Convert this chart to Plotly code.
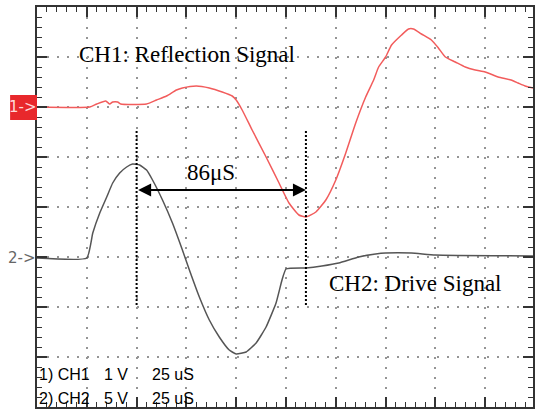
import plotly.graph_objects as go

# Time base: 25 us/div, CH1 1 V/div, CH2 5 V/div
ch1_t = [0, 26.5, 30, 34.5, 36.5, 38, 40.5, 42, 55, 60, 65, 70, 73, 80, 86.5, 93, 98, 100,
         103, 108, 115, 121.5, 126.5, 131.5, 135, 140, 145, 150, 155, 160, 165, 169, 171.5,
         175, 178, 183, 186.5, 189, 193, 198, 201.5, 205, 210, 215, 220, 225, 231.5, 238,
         241.5, 245, 249]
ch1_v = [0, 0, 0.06, 0.12, 0.06, 0.10, 0.10, 0.06, 0.06, 0.14, 0.22, 0.34, 0.38, 0.42, 0.38,
         0.30, 0.22, 0.14, -0.06, -0.46, -1.00, -1.52, -1.92, -2.16, -2.20, -2.10, -1.86,
         -1.46, -0.92, -0.32, 0.20, 0.54, 0.80, 1.00, 1.24, 1.44, 1.56, 1.56, 1.46, 1.34,
         1.18, 1.00, 0.90, 0.80, 0.74, 0.70, 0.60, 0.54, 0.48, 0.42, 0.38]

ch2_t = [0, 25, 28, 31.5, 35, 38, 41.5, 45, 48, 51.5, 55, 58, 63, 68, 73, 76.5, 81.5, 86.5,
         91.5, 96.5, 100, 105, 110, 115, 120, 123, 125, 135, 143, 151.5, 161.5, 170, 175,
         188, 200, 249]
ch2_v = [0, 0, 2.5, 4.5, 6.1, 7.5, 8.5, 9.1, 9.4, 9.3, 8.8, 7.8, 5.8, 3.5, 0.8, -1.2, -3.9,
         -6.2, -7.9, -9.2, -9.6, -9.4, -8.5, -6.9, -4.5, -2.2, -1.1, -1.0, -0.8, -0.5, 0.1,
         0.4, 0.5, 0.5, 0.3, 0.2]

CH1_SCALE = 1.0   # V/div
CH2_SCALE = 5.0   # V/div
CH1_REF = 6.0     # div from bottom
CH2_REF = 2.98

marker_t = [50, 135]   # cursor positions (us)
delta_label = "86μS"

y1 = [CH1_REF + v / CH1_SCALE for v in ch1_v]
y2 = [CH2_REF + v / CH2_SCALE for v in ch2_v]

fig = go.Figure()
fig.add_trace(go.Scatter(x=ch1_t, y=y1, mode="lines",
                         line=dict(color="#f25c5c", width=1.5, shape="spline", smoothing=0.5),
                         hoverinfo="skip"))
fig.add_trace(go.Scatter(x=ch2_t, y=y2, mode="lines",
                         line=dict(color="#555555", width=1.5, shape="spline", smoothing=0.4),
                         hoverinfo="skip"))

for t in marker_t:
    fig.add_shape(type="line", xref="x", yref="y", x0=t, x1=t, y0=2.04, y1=5.54,
                  line=dict(color="black", width=2, dash="2px,2px"))

fig.add_annotation(x=marker_t[1], y=4.34, ax=marker_t[0], ay=4.34, axref="x", ayref="y",
                   xref="x", yref="y", text="", showarrow=True, arrowside="end+start",
                   arrowhead=2, arrowsize=1.3, arrowwidth=2, arrowcolor="black",
                   standoff=0, startstandoff=0)

serif = dict(family="Liberation Serif", size=23, color="black")
fig.add_annotation(x=20, y=7.06, xref="x", yref="y", text="CH1: Reflection Signal",
                   showarrow=False, xanchor="left", yanchor="middle", font=serif)
fig.add_annotation(x=145.5, y=2.48, xref="x", yref="y", text="CH2: Drive Signal",
                   showarrow=False, xanchor="left", yanchor="middle", font=serif)
fig.add_annotation(x=87.5, y=4.7, xref="x", yref="y", text=delta_label,
                   showarrow=False, xanchor="center", yanchor="middle", font=serif)

sans = dict(family="Liberation Sans", size=16, color="black")
rows = [("1) CH1", "1 V", "25 uS", 0.66), ("2) CH2", "5 V", "25 uS", 0.18)]
for a, b, c, yy in rows:
    for txt, xx in ((a, 0), (b, 32.5), (c, 56.5)):
        fig.add_annotation(x=xx, y=yy, xref="x", yref="y", text=txt, showarrow=False,
                           xanchor="left", yanchor="middle", font=sans)

# channel reference markers
fig.add_shape(type="rect", xref="paper", yref="paper", x0=-27 / 498, x1=0,
              y0=(407 - 120) / 400, y1=(407 - 95) / 400,
              fillcolor="#e8282c", line=dict(width=0))
fig.add_annotation(xref="paper", yref="paper", x=-14 / 498, y=(407 - 107) / 400,
                   text="1->", showarrow=False, xanchor="center", yanchor="middle",
                   font=dict(family="DejaVu Sans", size=15, color="#ffd8d8"))
fig.add_annotation(xref="paper", yref="paper", x=-15 / 498, y=(407 - 258) / 400,
                   text="2->", showarrow=False, xanchor="center", yanchor="middle",
                   font=dict(family="DejaVu Sans", size=15, color="#666666"))

axis_common = dict(showticklabels=False, ticks="inside", ticklen=10, tickwidth=1.5,
                   tickcolor="#333333", showline=True, linecolor="#333333", linewidth=2,
                   mirror="ticks", zeroline=False, showgrid=True, gridcolor="#959595",
                   griddash="2px,8px", gridwidth=1.5, fixedrange=True)
fig.update_xaxes(range=[0, 249], tick0=0, dtick=25,
                 minor=dict(dtick=5, ticks="inside", ticklen=5, tickwidth=1,
                            tickcolor="#333333", showgrid=False), **axis_common)
fig.update_yaxes(range=[0, 8], tick0=0, dtick=1,
                 minor=dict(dtick=0.2, ticks="inside", ticklen=5, tickwidth=1,
                            tickcolor="#333333", showgrid=False), **axis_common)

fig.update_layout(width=535, height=410, margin=dict(l=37, r=0, t=7, b=3),
                  paper_bgcolor="white", plot_bgcolor="white", showlegend=False)

fig.write_html("out.html")
